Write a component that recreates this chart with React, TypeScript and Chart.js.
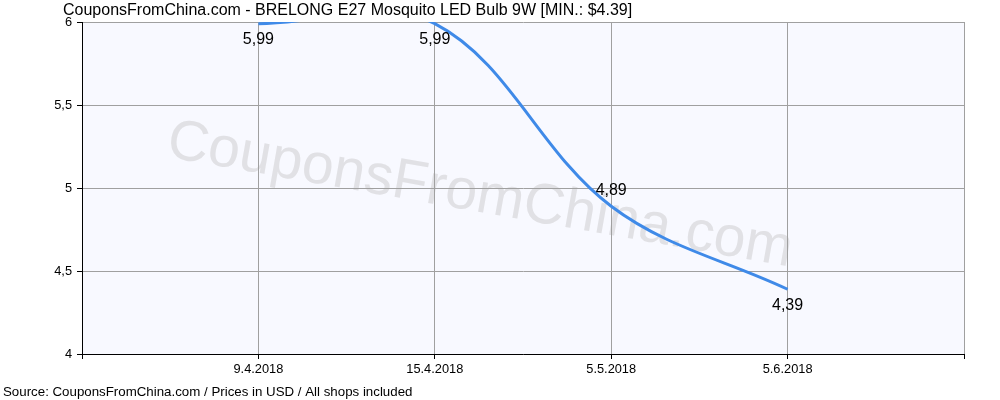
import React, { useEffect, useRef } from "react";
import { Chart, registerables } from "chart.js";

Chart.register(...registerables);

const TITLE = "CouponsFromChina.com - BRELONG E27 Mosquito LED Bulb 9W [MIN.: $4.39]";
const SOURCE = "Source: CouponsFromChina.com / Prices in USD / All shops included";
const WATERMARK = "CouponsFromChina.com";
const dates = ["9.4.2018", "15.4.2018", "5.5.2018", "5.6.2018"];
const prices = [5.99, 5.99, 4.89, 4.39];
const yMin = 4;
const yMax = 6;
const yStep = 0.5;

const FONT = '"Liberation Sans", Arial, sans-serif';

const fmt = (v: number) => String(v).replace(".", ",");

const decor = {
  id: "decor",
  beforeDraw(chart: any) {
    const { ctx, chartArea: a } = chart;
    ctx.save();
    ctx.fillStyle = "#f8f9ff";
    ctx.fillRect(a.left, a.top, a.right - a.left, a.bottom - a.top);
    ctx.beginPath();
    ctx.rect(a.left, a.top, a.right - a.left, a.bottom - a.top);
    ctx.clip();
    ctx.translate(a.left + 398, a.top + 174);
    ctx.rotate((10 * Math.PI) / 180);
    ctx.font = `57px ${FONT}`;
    ctx.fillStyle = "#e1e1e5";
    ctx.textAlign = "center";
    ctx.textBaseline = "middle";
    ctx.fillText(WATERMARK, 0, 0);
    ctx.restore();
  },
  afterDraw(chart: any) {
    const { ctx, chartArea: a } = chart;
    ctx.save();
    ctx.fillStyle = "#000";
    ctx.textAlign = "left";
    ctx.textBaseline = "alphabetic";
    ctx.font = `16px ${FONT}`;
    ctx.fillText(TITLE, a.left - 19, 15);
    ctx.font = `13.3px ${FONT}`;
    ctx.fillText(SOURCE, 3, 396);
    // value labels
    const meta = chart.getDatasetMeta(0);
    ctx.font = `16px ${FONT}`;
    ctx.textAlign = "center";
    ctx.textBaseline = "middle";
    meta.data.forEach((pt: any, i: number) => {
      const v = prices[i];
      const next = prices[i + 1];
      const roomAbove = pt.y - 30 > a.top;
      const above = roomAbove && next !== undefined && next < v;
      ctx.fillText(fmt(v), pt.x, above ? pt.y - 16 : pt.y + 16);
    });
    ctx.restore();
  },
};

export default function App() {
  const ref = useRef<HTMLCanvasElement | null>(null);
  useEffect(() => {
    document.body.style.margin = "0";
    const canvas = ref.current;
    if (!canvas) return;
    const chart = new Chart(canvas, {
      type: "line",
      data: {
        datasets: [
          {
            data: prices.map((p, i) => ({ x: i + 1, y: p })),
            borderColor: "#3f8ae8",
            borderWidth: 3,
            pointRadius: 0,
            tension: 0.36,
            capBezierPoints: false,
            fill: false,
          },
        ],
      },
      options: {
        animation: false,
        responsive: false,
        events: [],
        layout: { padding: { top: 22, right: 36, left: 0, bottom: 0 } },
        plugins: {
          legend: { display: false },
          title: { display: false },
          tooltip: { enabled: false },
        },
        scales: {
          x: {
            type: "linear",
            min: 0,
            max: dates.length + 1,
            afterFit: (s: any) => {
              s.height = 46;
            },
            grid: {
              color: "#a0a0a0",
              tickColor: "#000",
              tickLength: 5,
              lineWidth: 1,
            },
            border: { color: "#000", width: 1 },
            ticks: {
              stepSize: 1,
              autoSkip: false,
              maxRotation: 0,
              padding: 3,
              color: "#000",
              font: { family: FONT, size: 12.8 },
              callback: (v: any) => {
                const i = Number(v) - 1;
                return i >= 0 && i < dates.length ? dates[i] : "";
              },
            },
          },
          y: {
            type: "linear",
            min: yMin,
            max: yMax,
            afterFit: (s: any) => {
              s.width = 82;
            },
            grid: {
              color: "#a0a0a0",
              tickColor: "#000",
              tickLength: 5,
              lineWidth: 1,
            },
            border: { color: "#000", width: 1 },
            ticks: {
              stepSize: yStep,
              padding: 5,
              color: "#000",
              font: { family: FONT, size: 12.8 },
              callback: (v: any) => fmt(Number(v)),
            },
          },
        },
      },
      plugins: [decor],
    });
    return () => chart.destroy();
  }, []);
  return <canvas ref={ref} width={1000} height={400} style={{ display: "block" }} />;
}
